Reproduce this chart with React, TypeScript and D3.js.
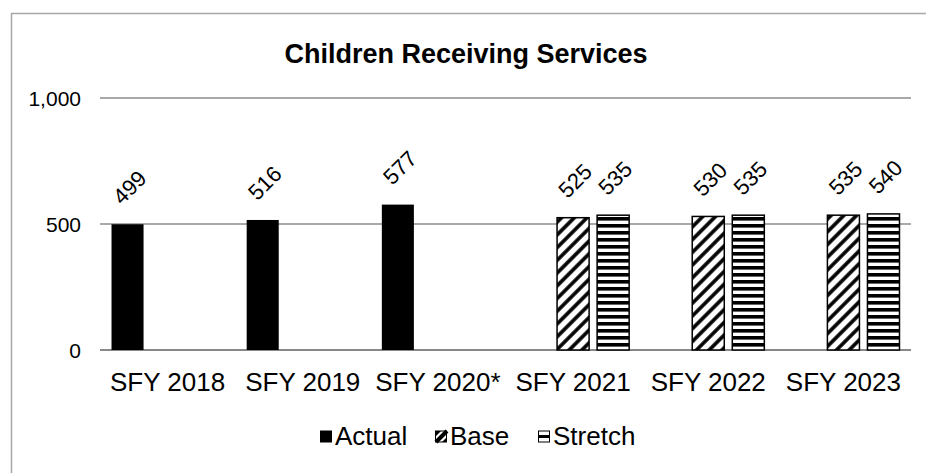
import * as d3 from 'd3';

const categories = ['SFY 2018', 'SFY 2019', 'SFY 2020*', 'SFY 2021', 'SFY 2022', 'SFY 2023'];
const seriesNames = ['Actual', 'Base', 'Stretch'];
const actual: (number | null)[] = [499, 516, 577, null, null, null];
const base: (number | null)[] = [null, null, null, 525, 530, 535];
const stretch: (number | null)[] = [null, null, null, 535, 535, 540];
const yTicks = [0, 500, 1000];

const W = 926;
const H = 473;
const FONT = '"Liberation Sans", Arial, sans-serif';

const fills: Record<string, string> = {
  Actual: '#000',
  Base: 'url(#diag)',
  Stretch: 'url(#horiz)',
};

const App = () => {
  const margin = { left: 100, right: 15, top: 98, bottom: 123 };
  const x0 = d3.scaleBand<string>().domain(categories).range([margin.left, W - margin.right]);
  const x1 = d3
    .scaleBand<string>()
    .domain(seriesNames)
    .range([0, x0.bandwidth()])
    .paddingInner(0.2)
    .paddingOuter(0.2875);
  const y = d3.scaleLinear().domain([0, 1000]).range([H - margin.bottom, margin.top]);
  const fmt = d3.format(',');

  const values: Record<string, (number | null)[]> = { Actual: actual, Base: base, Stretch: stretch };

  const bars = categories.flatMap((c, i) =>
    seriesNames
      .filter(s => values[s][i] != null)
      .map(s => ({ cat: c, series: s, value: values[s][i] as number }))
  );

  const legendItems = [
    { name: 'Actual', x: 320 },
    { name: 'Base', x: 435 },
    { name: 'Stretch', x: 538 },
  ];

  return (
    <svg width={W} height={H} style={{ position: 'absolute', left: 0, top: 0, background: '#fff' }} fontFamily={FONT}>
      <defs>
        <pattern id="diag" width="9" height="9" patternUnits="userSpaceOnUse" patternTransform="rotate(45)">
          <rect width="9" height="9" fill="#fff" />
          <line x1="2" y1="0" x2="2" y2="9" stroke="#000" strokeWidth="3.6" />
        </pattern>
        <pattern id="horiz" width="7" height="7" patternUnits="userSpaceOnUse">
          <rect width="7" height="7" fill="#fff" />
          <rect y="0" width="7" height="3.6" fill="#000" />
        </pattern>
      </defs>

      {/* chart border */}
      <path d={`M11.5,${H} V13.5 H${W}`} fill="none" stroke="#a6a6a6" strokeWidth={1.5} />

      <text x={466} y={63} textAnchor="middle" fontSize={27} fontWeight="bold">
        Children Receiving Services
      </text>

      {/* gridlines */}
      {yTicks.map(t => (
        <g key={t}>
          <line
            x1={margin.left}
            x2={W - margin.right}
            y1={y(t)}
            y2={y(t)}
            stroke={t === 0 ? '#898989' : '#8c8c8c'}
            strokeWidth={t === 0 ? 2 : 1.3}
          />
          <text x={81} y={y(t)} dy="0.36em" textAnchor="end" fontSize={21}>
            {fmt(t)}
          </text>
        </g>
      ))}

      {/* bars */}
      {bars.map(b => {
        const bx = (x0(b.cat) as number) + (x1(b.series) as number);
        const by = y(b.value);
        const bw = x1.bandwidth();
        const bh = y(0) - by;
        const cx = bx + bw / 2;
        return (
          <g key={b.cat + b.series}>
            <rect
              x={bx}
              y={by}
              width={bw}
              height={bh}
              fill={fills[b.series]}
              stroke={b.series === 'Actual' ? 'none' : '#000'}
              strokeWidth={1.5}
            />
            <text
              transform={`translate(${cx + 2},${by - 37}) rotate(-45)`}
              textAnchor="middle"
              dy="0.35em"
              fontSize={22}
            >
              {b.value}
            </text>
          </g>
        );
      })}

      {/* x labels */}
      {categories.map(c => (
        <text key={c} x={(x0(c) as number) + x0.bandwidth() / 2} y={391} textAnchor="middle" fontSize={26}>
          {c}
        </text>
      ))}

      {/* legend */}
      {legendItems.map(l => (
        <g key={l.name} transform={`translate(${l.x},0)`}>
          <rect
            x={0.5}
            y={431}
            width={11}
            height={11}
            fill={l.name === 'Actual' ? '#000' : '#fff'}
            stroke="#000"
            strokeWidth={1}
          />
          {l.name === 'Base' && (
            <g>
              <path d="M1,442 L12,431 L12,431 L1,442 Z" stroke="#000" strokeWidth={4} />
              <path d="M1,431 L1,436 L6,431 Z M12,442 L12,437 L7,442 Z" fill="#000" />
            </g>
          )}
          {l.name === 'Stretch' && <rect x={0.5} y={435} width={11} height={3} fill="#000" />}
          <text x={15} y={445} fontSize={26}>
            {l.name}
          </text>
        </g>
      ))}
    </svg>
  );
};

export default App;
